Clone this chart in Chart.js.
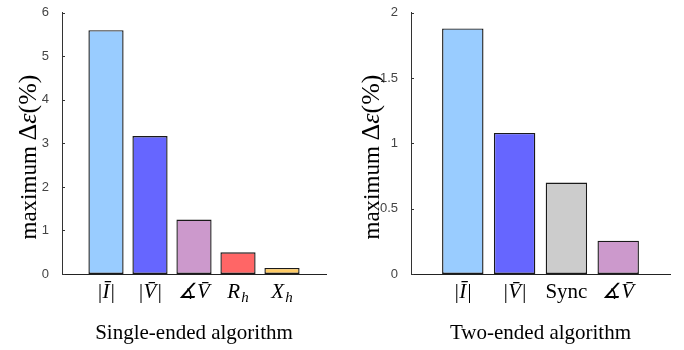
<!DOCTYPE html>
<html>
<head>
<meta charset="utf-8">
<script src="https://cdn.jsdelivr.net/npm/chart.js@4"></script>
<style>
  html, body { margin: 0; padding: 0; background: #fff; }
  #wrap { position: relative; width: 684px; height: 350px; }
  canvas { position: absolute; top: 0; }
</style>
</head>
<body>
<div id="wrap">
  <canvas id="c1" width="342" height="350" style="left:0"></canvas>
  <canvas id="c2" width="342" height="350" style="left:342px"></canvas>
</div>
<script>
// ---- data ----
const singleCategories = ['|Ī|', '|V̄|', '∡V̄', 'R_h', 'X_h'];
const singleValues = [5.6, 3.17, 1.25, 0.5, 0.14];
const singleColors = ['#99CCFF', '#6666FF', '#CC99CC', '#FF6666', '#FFCC66'];
const singleTicks = [0, 1, 2, 3, 4, 5, 6];

const twoCategories = ['|Ī|', '|V̄|', 'Sync', '∡V̄'];
const twoValues = [1.88, 1.08, 0.70, 0.255];
const twoColors = ['#99CCFF', '#6666FF', '#CCCCCC', '#CC99CC'];
const twoTicks = [0, 0.5, 1, 1.5, 2];

const singleTitle = 'Single-ended algorithm';
const twoTitle = 'Two-ended algorithm';
const yTitleWord = 'maximum ';

const SERIF = '"Liberation Serif", "Times New Roman", "DejaVu Serif", serif';

function drawCatLabel(ctx, label, cx, baseY) {
  const upright = /^[A-Za-z]{2,}$/.test(label);
  const parts = label.split('_');
  const main = parts[0], sub = parts[1] || '';
  const mainFont = (upright ? '' : 'italic ') + '21px ' + SERIF;
  const subFont = 'italic 15px ' + SERIF;
  ctx.font = mainFont;
  const wm = ctx.measureText(main).width;
  ctx.font = subFont;
  const ws = sub ? ctx.measureText(sub).width + 1 : 0;
  let x = cx - (wm + ws) / 2;
  ctx.textAlign = 'left';
  ctx.textBaseline = 'alphabetic';
  ctx.font = mainFont;
  ctx.fillText(main, x, baseY);
  if (sub) {
    ctx.font = subFont;
    ctx.fillText(sub, x + wm + 1, baseY + 4);
  }
}

function makeTextPlugin(cats, xTitle, yTitleX) {
  return {
    id: 'customText',
    afterDraw(chart) {
      const { ctx, chartArea, scales } = chart;
      const xs = scales.x, ys = scales.y;
      ctx.save();
      // inward y tick marks
      ctx.strokeStyle = '#333';
      ctx.lineWidth = 1;
      ys.ticks.forEach(t => {
        const py = Math.round(ys.getPixelForValue(t.value)) + 0.5;
        ctx.beginPath();
        ctx.moveTo(chartArea.left, py);
        ctx.lineTo(chartArea.left + 3, py);
        ctx.stroke();
      });
      // category labels
      ctx.fillStyle = '#000';
      cats.forEach((c, i) => drawCatLabel(ctx, c, xs.getPixelForValue(i + 1), 298));
      // x title
      ctx.font = '21px ' + SERIF;
      ctx.textAlign = 'center';
      ctx.textBaseline = 'alphabetic';
      ctx.fillText(xTitle, (chartArea.left + chartArea.right) / 2, 339);
      // y title (rotated, mixed runs)
      const runs = [
        { t: yTitleWord, f: '23px ' + SERIF },
        { t: 'Δ', f: '26px ' + SERIF },
        { t: 'ε', f: 'italic 26px ' + SERIF },
        { t: '(%)', f: '26px ' + SERIF }
      ];
      let total = 0;
      runs.forEach(r => { ctx.font = r.f; r.w = ctx.measureText(r.t).width; total += r.w; });
      ctx.translate(yTitleX, 157);
      ctx.rotate(-Math.PI / 2);
      ctx.textAlign = 'left';
      let x = -total / 2;
      runs.forEach(r => { ctx.font = r.f; ctx.fillText(r.t, x, 0); x += r.w; });
      ctx.restore();
    }
  };
}

function makeChart(id, cats, vals, colors, ticks, xTitle, yWidth, padRight, yTitleX) {
  const labels = ['', ...cats, ''];
  const data = [null, ...vals, null];
  const bg = ['#fff', ...colors, '#fff'];
  const yMax = ticks[ticks.length - 1];
  const step = ticks[1] - ticks[0];
  return new Chart(document.getElementById(id), {
    type: 'bar',
    data: {
      labels: labels,
      datasets: [{
        data: data,
        backgroundColor: bg,
        borderColor: '#1a1a1a',
        borderWidth: 1.4,
        borderSkipped: false,
        categoryPercentage: 1,
        barPercentage: 0.8
      }]
    },
    options: {
      responsive: false,
      animation: false,
      devicePixelRatio: 1,
      layout: { padding: { left: 0, right: padRight, top: 9, bottom: 0 } },
      plugins: { legend: { display: false }, tooltip: { enabled: false } },
      scales: {
        x: {
          type: 'category',
          offset: false,
          grid: { display: false },
          border: { display: true, color: '#222', width: 1 },
          ticks: { display: false },
          afterFit: s => { s.height = 76; }
        },
        y: {
          min: 0,
          max: yMax,
          afterBuildTicks: s => { s.ticks = ticks.map(v => ({ value: v })); },
          ticks: {
            stepSize: step,
            padding: 5,
            color: '#444',
            font: { family: '"Liberation Sans", Arial, sans-serif', size: 13 },
            callback: v => String(v)
          },
          grid: { display: false },
          border: { display: true, color: '#333', width: 1 },
          afterFit: s => { s.width = yWidth; }
        }
      }
    },
    plugins: [makeTextPlugin(cats, xTitle, yTitleX)]
  });
}

makeChart('c1', singleCategories, singleValues, singleColors, singleTicks, singleTitle, 62, 16, 36);
makeChart('c2', twoCategories, twoValues, twoColors, twoTicks, twoTitle, 69, 14, 37);
</script>
</body>
</html>
